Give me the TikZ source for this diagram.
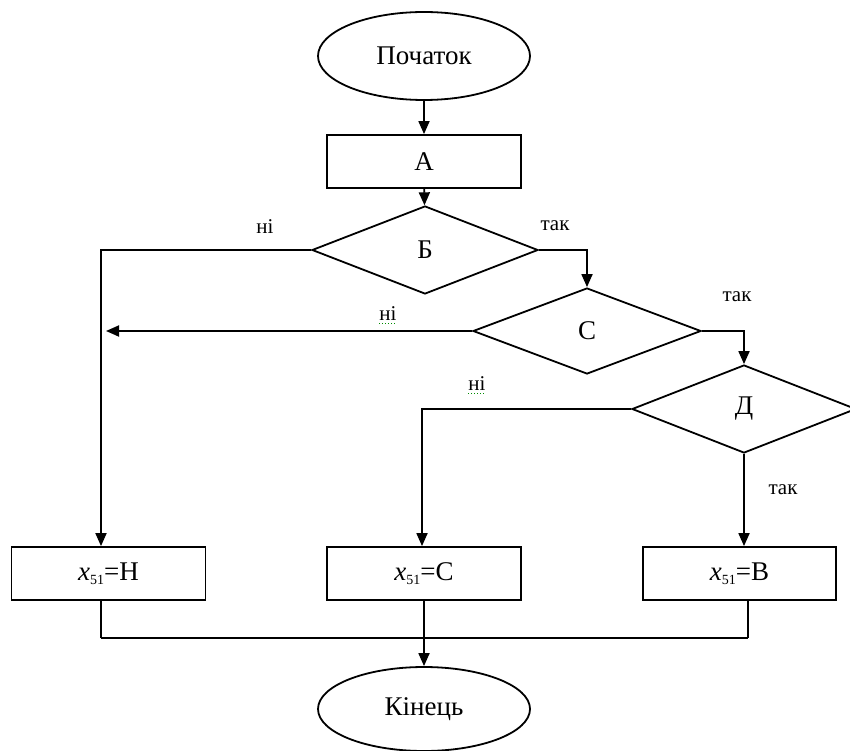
\documentclass[tikz,border=0pt]{standalone}
\usepackage{fontspec}
\setmainfont{Liberation Serif}
\usetikzlibrary{shapes.geometric,arrows.meta,calc}
\tikzset{
  base/.style={draw=black, line width=1.8pt, inner sep=0pt, font=\fontsize{27}{30}\selectfont},
  term/.style={base, ellipse},
  proc/.style={base, rectangle},
  dec/.style={base, diamond},
  lbl/.style={inner sep=0pt, font=\fontsize{21}{24}\selectfont},
  conn/.style={line width=1.8pt},
  arr/.style={conn, -{Triangle[length=13pt,width=11pt]}},
  spell/.style={draw=green!55!black, line width=1pt, dotted},
}
\newcommand{\xsub}[1]{\textit{x}\raisebox{-0.35ex}{\fontsize{14}{14}\selectfont 51}=#1}
\begin{document}
\begin{tikzpicture}[x=1pt,y=-1pt]
\useasboundingbox (0,0) rectangle (850,751);
% nodes
\node[term, minimum width=212, minimum height=88] (start) at (424,56) {Початок};
\node[proc, minimum width=194, minimum height=53] (A) at (424,161.5) {А};
\node[dec, minimum width=226, minimum height=88] (B) at (425,250) {Б};
\node[dec, minimum width=228, minimum height=86] (C) at (587,331) {С};
\node[dec, minimum width=224, minimum height=88] (D) at (744,409) {Д};
\node[proc, minimum width=194, minimum height=53] (bH) at (108.5,573.5) {\xsub{Н}};
\node[proc, minimum width=194, minimum height=53] (bC) at (424,573.5) {\xsub{С}};
\node[proc, minimum width=193, minimum height=53] (bB) at (739.5,573.5) {\xsub{В}};
\node[term, minimum width=212, minimum height=84] (end) at (424,709) {Кінець};
% coordinates
\coordinate (nL) at (101,250);
\coordinate (nD) at (422,409);
\coordinate (jL) at (101,638);
\coordinate (jR) at (748,638);
% labels
\node[lbl] (l1) at (265,227) {ні};
\node[lbl] (l2) at (555,226) {так};
\node[lbl] (l3) at (388,314) {ні};
\node[lbl] (l4) at (737,297) {так};
\node[lbl] (l5) at (477,384) {ні};
\node[lbl] (l6) at (783,490) {так};
\draw[spell] ($(l3.south west)+(0,2)$) -- ($(l3.south east)+(0,2)$);
\draw[spell] ($(l5.south west)+(0,2)$) -- ($(l5.south east)+(0,2)$);
% connectors
\draw[arr] (start) -- (A);
\draw[arr] (A) -- (B);
\draw[arr] (B.east) -| (C.north);
\draw[arr] (B.west) -- (nL) -- (nL |- bH.north);
\draw[arr] (C.west) -- ([xshift=5pt]nL |- C.west);
\draw[arr] (C.east) -| (D.north);
\draw[arr] (D.west) -- (nD) -- (nD |- bC.north);
\draw[arr] (D.south) -- (D.south |- bB.north);
\draw[conn] (jL |- bH.south) -- (jL);
\draw[conn] (jR |- bB.south) -- (jR);
\draw[conn, line width=2.4pt] (jL) -- (jR);
\draw[arr] (bC.south) -- (end.north);
\end{tikzpicture}
\end{document}
